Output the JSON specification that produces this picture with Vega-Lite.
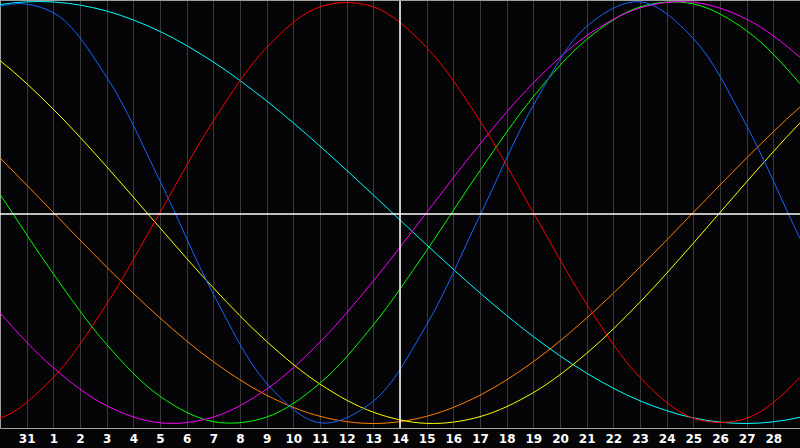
{
  "$schema": "https://vega.github.io/schema/vega-lite/v6.json",
  "width": 800,
  "height": 428,
  "autosize": {"type": "none"},
  "padding": {"left": 0, "top": 0, "right": 0, "bottom": 20},
  "background": "#050508",
  "config": {"view": {"stroke": null}},
  "datasets": {
    "curves": [
      {"i":-2,"s":"c","v":0.9175},{"i":0,"s":"c","v":0.9853},{"i":2,"s":"c","v":0.9979},{"i":4,"s":"c","v":0.9547},{"i":6,"s":"c","v":0.858},{"i":8,"s":"c","v":0.7134},{"i":10,"s":"c","v":0.5288},{"i":12,"s":"c","v":0.3147},{"i":14,"s":"c","v":0.0829},{"i":16,"s":"c","v":-0.1535},{"i":18,"s":"c","v":-0.3813},{"i":20,"s":"c","v":-0.5878},{"i":22,"s":"c","v":-0.7614},{"i":24,"s":"c","v":-0.8924},{"i":26,"s":"c","v":-0.9734},{"i":28,"s":"c","v":-1.0},{"i":30,"s":"c","v":-0.9706},{"i":32,"s":"c","v":-0.887},
      {"i":-2,"s":"o","v":0.5},{"i":0,"s":"o","v":0.2588},{"i":2,"s":"o","v":0},{"i":4,"s":"o","v":-0.2588},{"i":6,"s":"o","v":-0.5},{"i":8,"s":"o","v":-0.7071},{"i":10,"s":"o","v":-0.866},{"i":12,"s":"o","v":-0.9659},{"i":14,"s":"o","v":-1.0},{"i":16,"s":"o","v":-0.9659},{"i":18,"s":"o","v":-0.866},{"i":20,"s":"o","v":-0.7071},{"i":22,"s":"o","v":-0.5},{"i":24,"s":"o","v":-0.2588},{"i":26,"s":"o","v":0},{"i":28,"s":"o","v":0.2588},{"i":30,"s":"o","v":0.5},{"i":32,"s":"o","v":0.7071},
      {"i":-2,"s":"y","v":0.8893},{"i":0,"s":"y","v":0.72},{"i":2,"s":"y","v":0.4894},{"i":4,"s":"y","v":0.2174},{"i":6,"s":"y","v":-0.073},{"i":8,"s":"y","v":-0.3572},{"i":10,"s":"y","v":-0.6111},{"i":12,"s":"y","v":-0.8133},{"i":14,"s":"y","v":-0.9465},{"i":16,"s":"y","v":-0.9993},{"i":18,"s":"y","v":-0.9675},{"i":20,"s":"y","v":-0.8536},{"i":22,"s":"y","v":-0.6673},{"i":24,"s":"y","v":-0.4245},{"i":26,"s":"y","v":-0.1456},{"i":28,"s":"y","v":0.1456},{"i":30,"s":"y","v":0.4245},{"i":32,"s":"y","v":0.6673},
      {"i":-2,"s":"g","v":0.4497},{"i":0,"s":"g","v":0.0856},{"i":2,"s":"g","v":-0.2908},{"i":4,"s":"g","v":-0.6256},{"i":6,"s":"g","v":-0.8708},{"i":8,"s":"g","v":-0.9911},{"i":10,"s":"g","v":-0.9695},{"i":12,"s":"g","v":-0.809},{"i":14,"s":"g","v":-0.5326},{"i":16,"s":"g","v":-0.1799},{"i":18,"s":"g","v":0.1986},{"i":20,"s":"g","v":0.5487},{"i":22,"s":"g","v":0.8201},{"i":24,"s":"g","v":0.974},{"i":26,"s":"g","v":0.9884},{"i":28,"s":"g","v":0.8612},{"i":30,"s":"g","v":0.6107},{"i":32,"s":"g","v":0.2726},
      {"i":-2,"s":"m","v":-0.1646},{"i":0,"s":"m","v":-0.4759},{"i":2,"s":"m","v":-0.7357},{"i":4,"s":"m","v":-0.9158},{"i":6,"s":"m","v":-0.9966},{"i":8,"s":"m","v":-0.9694},{"i":10,"s":"m","v":-0.8372},{"i":12,"s":"m","v":-0.6142},{"i":14,"s":"m","v":-0.3247},{"i":16,"s":"m","v":0},{"i":18,"s":"m","v":0.3247},{"i":20,"s":"m","v":0.6142},{"i":22,"s":"m","v":0.8372},{"i":24,"s":"m","v":0.9694},{"i":26,"s":"m","v":0.9966},{"i":28,"s":"m","v":0.9158},{"i":30,"s":"m","v":0.7357},{"i":32,"s":"m","v":0.4759},
      {"i":-2,"s":"b","v":0.7214},{"i":0,"s":"b","v":0.9762},{"i":2,"s":"b","v":0.9468},{"i":4,"s":"b","v":0.6416},{"i":6,"s":"b","v":0.1497},{"i":8,"s":"b","v":-0.3858},{"i":10,"s":"b","v":-0.809},{"i":12,"s":"b","v":-0.9966},{"i":14,"s":"b","v":-0.8942},{"i":16,"s":"b","v":-0.5313},{"i":18,"s":"b","v":-0.0137},{"i":20,"s":"b","v":0.5079},{"i":22,"s":"b","v":0.8815},{"i":24,"s":"b","v":0.9985},{"i":26,"s":"b","v":0.8247},{"i":28,"s":"b","v":0.4109},{"i":30,"s":"b","v":-0.1226},{"i":32,"s":"b","v":-0.6204},
      {"i":-2,"s":"r","v":-0.9749},{"i":0,"s":"r","v":-0.9749},{"i":2,"s":"r","v":-0.7818},{"i":4,"s":"r","v":-0.4339},{"i":6,"s":"r","v":0},{"i":8,"s":"r","v":0.4339},{"i":10,"s":"r","v":0.7818},{"i":12,"s":"r","v":0.9749},{"i":14,"s":"r","v":0.9749},{"i":16,"s":"r","v":0.7818},{"i":18,"s":"r","v":0.4339},{"i":20,"s":"r","v":0},{"i":22,"s":"r","v":-0.4339},{"i":24,"s":"r","v":-0.7818},{"i":26,"s":"r","v":-0.9749},{"i":28,"s":"r","v":-0.9749},{"i":30,"s":"r","v":-0.7818},{"i":32,"s":"r","v":-0.4339}
    ]
  },
  "encoding": {
    "x": {
      "field": "i", "type": "quantitative",
      "scale": {"domain": [0, 30], "nice": false, "zero": false},
      "axis": {
        "values": [1,2,3,4,5,6,7,8,9,10,11,12,13,14,15,16,17,18,19,20,21,22,23,24,25,26,27,28,29],
        "labelExpr": "datum.value == 1 ? '31' : '' + (datum.value - 1)",
        "title": null, "grid": true, "gridColor": "#3a3a3a", "gridWidth": 1,
        "ticks": false, "tickSize": 0,
        "domain": true, "domainColor": "#a0a0a0", "domainWidth": 1,
        "labelColor": "#ffffff", "labelFont": "DejaVu Sans", "labelFontWeight": "bold", "labelFontSize": 12,
        "labelBaseline": "alphabetic", "labelPadding": 14, "labelFlush": false, "labelOverlap": false, "labelAngle": 0
      }
    },
    "y": {
      "field": "v", "type": "quantitative",
      "scale": {"domain": [-1.0213, 1.0071], "nice": false, "zero": false},
      "axis": {"title": null, "labels": false, "ticks": false, "grid": false, "domain": true, "domainColor": "#a0a0a0", "domainWidth": 1}
    }
  },
  "layer": [
    {
      "data": {"name": "curves"},
      "mark": {"type": "line", "interpolate": "catmull-rom", "clip": true, "strokeWidth": 1},
      "encoding": {
        "color": {
          "field": "s", "type": "nominal", "legend": null,
          "scale": {"domain": ["c","o","y","g","m","b","r"], "range": ["#00ffff","#ff8000","#ffff00","#00ff00","#ff00ff","#1464ff","#ff0000"]}
        },
        "detail": {"field": "s"}
      }
    },
    {
      "data": {"values": [{"i": 15}]},
      "mark": {"type": "rule", "color": "#ffffff", "strokeWidth": 1.5},
      "encoding": {"y": null}
    },
    {
      "data": {"values": [{"v": -0.007}]},
      "mark": {"type": "rule", "color": "#ffffff", "strokeWidth": 1.5},
      "encoding": {"x": null}
    },
    {
      "data": {"values": [{"v": 1.0071}]},
      "mark": {"type": "rule", "color": "#a0a0a0", "strokeWidth": 2},
      "encoding": {"x": null}
    }
  ]
}
